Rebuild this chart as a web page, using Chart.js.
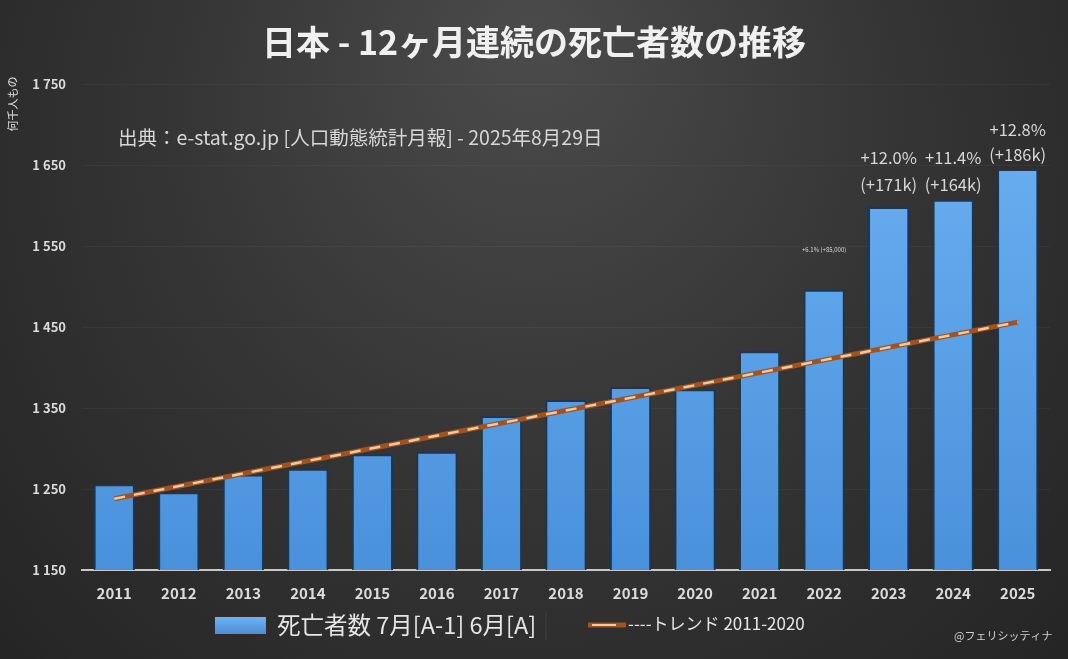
<!DOCTYPE html>
<html>
<head>
<meta charset="utf-8">
<script src="https://cdn.jsdelivr.net/npm/chart.js@4"></script>
<style>
  html, body { margin: 0; padding: 0; background: #2a2a2a; }
  #wrap { width: 1068px; height: 659px; position: relative; }
</style>
</head>
<body>
<div id="wrap"><canvas id="myChart" width="1068" height="659"></canvas></div>
<script>
var years = ["2011", "2012", "2013", "2014", "2015", "2016", "2017", "2018", "2019", "2020", "2021", "2022", "2023", "2024", "2025"];
// deaths, 12 months Jul[A-1]..Jun[A], thousands
var deaths = [1256, 1246, 1268, 1275, 1293, 1296, 1340, 1360, 1376, 1373, 1420, 1496, 1598, 1607, 1645];
// trend 2011-2020 (straight line, endpoints)
var trend = [1238, null, null, null, null, null, null, null, null, null, null, null, null, null, 1456];
var notePct = ["", "", "", "", "", "", "", "", "", "", "", "+6.1% (+85,000)", "+12.0%", "+11.4%", "+12.8%"];
var noteAbs = ["", "", "", "", "", "", "", "", "", "", "", "", "(+171k)", "(+164k)", "(+186k)"];

var FONT = "'Noto Sans CJK JP', 'Noto Sans', sans-serif";

var bgPlugin = {
    id: 'bg',
    beforeDraw: function(chart) {
        var c = chart.ctx, w = chart.width, h = chart.height;
        c.save();
        c.fillStyle = '#262626';
        c.fillRect(0, 0, w, h);
        var g = c.createRadialGradient(w * 0.5, 40, 20, w * 0.5, 200, 700);
        g.addColorStop(0, '#4a4a4a');
        g.addColorStop(0.5, '#353535');
        g.addColorStop(1, '#252525');
        c.fillStyle = g;
        c.fillRect(0, 0, w, h);
        c.restore();
    }
};

var textPlugin = {
    id: 'texts',
    afterDraw: function(chart) {
        var c = chart.ctx;
        c.save();
        // title
        c.fillStyle = '#f0f0f0';
        c.font = 'bold 34px ' + FONT;
        c.textAlign = 'center';
        c.textBaseline = 'middle';
        c.fillText('日本 - 12ヶ月連続の死亡者数の推移', 534, 42);
        // source
        c.fillStyle = '#d8d8d8';
        c.font = '19.5px ' + FONT;
        c.textAlign = 'left';
        c.fillText('出典：e-stat.go.jp [人口動態統計月報] - 2025年8月29日', 118, 138);
        // y unit label
        c.save();
        c.translate(13, 104);
        c.rotate(-Math.PI / 2);
        c.font = '11px ' + FONT;
        c.fillStyle = '#e0e0e0';
        c.textAlign = 'center';
        c.fillText('何千人もの', 0, 0);
        c.restore();
        // bar notes
        var meta = chart.getDatasetMeta(2);
        meta.data.forEach(function(bar, i) {
            if (!notePct[i]) return;
            c.textAlign = 'center';
            c.fillStyle = '#d8d8d8';
            if (!noteAbs[i]) {
                c.font = '6px ' + FONT;
                c.fillText(notePct[i], bar.x, 250);
                return;
            }
            c.font = '16.5px ' + FONT;
            var top = i === 14 ? 130 : 158;
            c.fillText(notePct[i], bar.x, top);
            c.fillText(noteAbs[i], bar.x, top + (i === 14 ? 25 : 27));
        });
        // legend
        var lg = c.createLinearGradient(0, 617, 0, 634);
        lg.addColorStop(0, '#6fb2ef');
        lg.addColorStop(1, '#4a8fd6');
        c.fillStyle = lg;
        c.fillRect(215, 617, 51, 17);
        c.fillStyle = '#e6e6e6';
        c.font = '23.5px ' + FONT;
        c.textAlign = 'left';
        c.fillText('死亡者数 7月[A-1] 6月[A]', 277, 625);
        c.strokeStyle = '#3e3e3e';
        c.lineWidth = 1;
        c.beginPath(); c.moveTo(546, 612); c.lineTo(546, 640); c.stroke();
        c.strokeStyle = '#a2521f';
        c.lineWidth = 5;
        c.beginPath(); c.moveTo(588, 625); c.lineTo(626, 625); c.stroke();
        c.strokeStyle = '#efc9a0';
        c.lineWidth = 2;
        c.beginPath(); c.moveTo(592, 625); c.lineTo(616, 625); c.stroke();
        c.fillStyle = '#e6e6e6';
        c.font = '17px ' + FONT;
        c.fillText('----トレンド 2011-2020', 628, 624);
        c.font = '11px ' + FONT;
        c.fillStyle = '#d0d0d0';
        c.fillText('@フェリシッティナ', 954, 636);
        c.restore();
    }
};

var config = {
    type: 'bar',
    data: {
        labels: years,
        datasets: [{
            type: 'line',
            label: 'trend-base',
            data: trend,
            spanGaps: true,
            borderColor: '#a2521f',
            borderWidth: 5,
            pointRadius: 0,
            order: 0
        }, {
            type: 'line',
            label: 'trend',
            data: trend,
            spanGaps: true,
            borderColor: '#efc9a0',
            borderWidth: 2.5,
            borderDash: [11, 9],
            pointRadius: 0,
            order: -1
        }, {
            label: '死亡者数 7月[A-1] 6月[A]',
            data: deaths,
            backgroundColor: function(ctx) {
                var area = ctx.chart.chartArea;
                if (!area) return '#5aa5ea';
                var g = ctx.chart.ctx.createLinearGradient(0, area.top, 0, area.bottom);
                g.addColorStop(0, '#6cb2f2');
                g.addColorStop(1, '#4a91dc');
                return g;
            },
            borderColor: '#1d3652',
            borderWidth: 2,
            borderSkipped: 'bottom',
            categoryPercentage: 1,
            barPercentage: 0.64,
            order: 2
        }]
    },
    options: {
        responsive: false,
        animation: false,
        layout: { padding: { left: 0, right: 18, top: 84, bottom: 49 } },
        plugins: {
            legend: { display: false },
            tooltip: { enabled: false }
        },
        scales: {
            x: {
                grid: { display: false, drawTicks: false },
                border: { color: '#c8c8c8', width: 2 },
                ticks: { color: '#dcdcdc', font: { family: FONT, size: 15, weight: 'bold' }, padding: 14 },
                afterFit: function(s) { s.height = 40; }
            },
            y: {
                min: 1150,
                max: 1750,
                grid: { color: 'rgba(255,255,255,0.04)', drawTicks: false },
                border: { display: false },
                ticks: {
                    stepSize: 100,
                    color: '#dcdcdc',
                    padding: 16,
                    font: { family: FONT, size: 13, weight: 'bold' },
                    callback: function(v) { return String(v).replace(/^(\d)(\d{3})$/, '$1 $2'); }
                },
                afterFit: function(s) { s.width = 82; }
            }
        }
    },
    plugins: [bgPlugin, textPlugin]
};

window.onload = function() {
    var ctx = document.getElementById("myChart");
    window.myChart = new Chart(ctx, config);
};
</script>
</body>
</html>
